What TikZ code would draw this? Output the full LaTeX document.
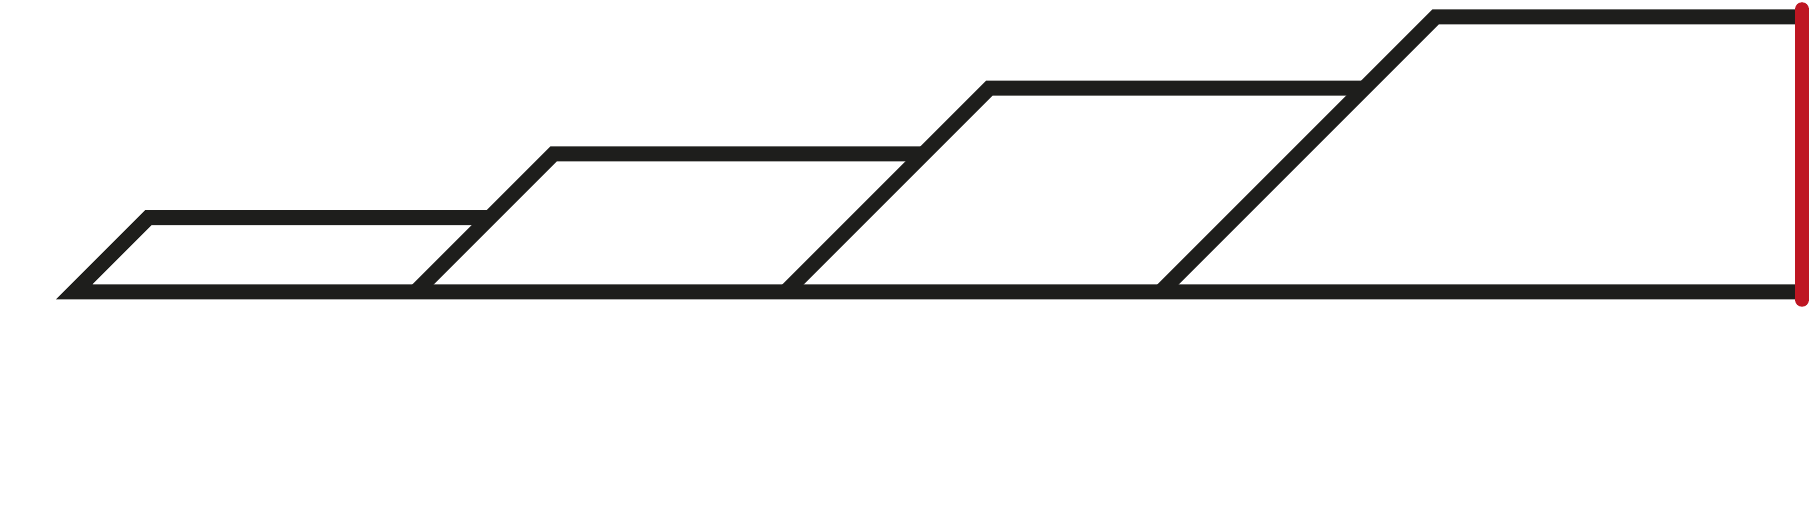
\documentclass[tikz,border=0pt]{standalone}
\usepackage{xcolor}
\definecolor{trazo}{RGB}{30, 30, 28}
\definecolor{rojo}{RGB}{190, 22, 34}

\begin{document}
\begin{tikzpicture}[line join=miter,
    perfil/.style={trazo, line width=0.15cm},
    tope/.style={rojo, line width=0.145cm, line cap=round}]
    \useasboundingbox (0, 0) rectangle (18.1, 5.31);

    % Base y primer escalón
    \draw[perfil] (18.02, 2.392) -- (0.742, 2.392) -- (1.483, 3.133) -- (4.898, 3.133);

    % Escalones: diagonal a 45 grados y tramo superior
    \draw[perfil] (4.157, 2.392) -- (5.536, 3.771) -- (9.236, 3.771);
    \draw[perfil] (7.857, 2.392) -- (9.893, 4.428) -- (13.643, 4.428);
    \draw[perfil] (11.607, 2.392) -- (14.357, 5.142) -- (18.02, 5.142);

    % Tope vertical
    \draw[tope] (18.02, 2.315) -- (18.02, 5.215);
\end{tikzpicture}
\end{document}
